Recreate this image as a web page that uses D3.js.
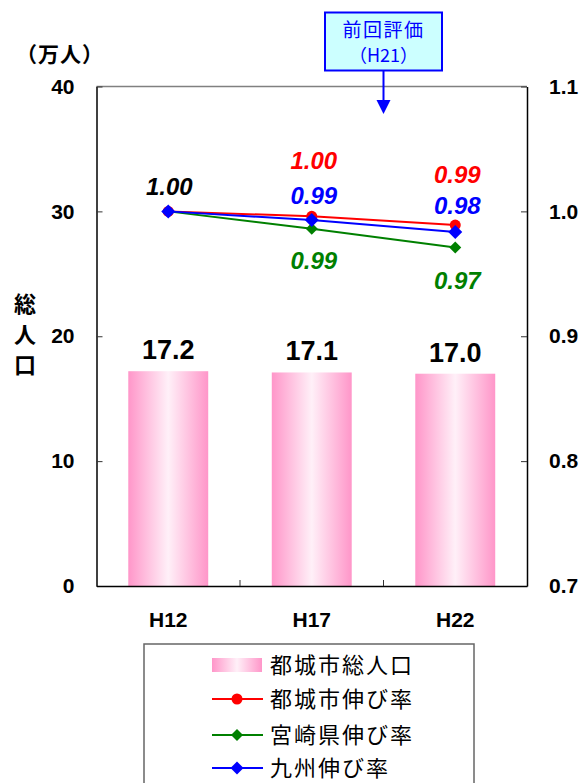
<!DOCTYPE html>
<html>
<head>
<meta charset="utf-8">
<script src="https://cdn.jsdelivr.net/npm/d3@7"></script>
<style>
  html, body { margin: 0; padding: 0; background: #fff; }
  svg { display: block; }
  text { font-family: "Liberation Sans", Arial, "Noto Sans CJK JP", sans-serif; }
  .jp { font-family: "Noto Sans CJK JP", sans-serif; }
</style>
</head>
<body>
<div id="chart"></div>
<script>
// ---- data ----
const categories = ["H12", "H17", "H22"];
const populationValues = [17.2, 17.1, 17.0];          // 都城市総人口 (万人)
const cityRate = [1.00, 0.996, 0.989];                // 都城市伸び率
const prefRate = [1.00, 0.986, 0.971];                // 宮崎県伸び率
const kyushuRate = [1.00, 0.993, 0.9835];             // 九州伸び率
const cityRateLabels = [null, "1.00", "0.99"];
const prefRateLabels = [null, "0.99", "0.97"];
const kyushuRateLabels = [null, "0.99", "0.98"];
const firstRateLabel = "1.00";
const leftTicks = [0, 10, 20, 30, 40];
const rightTicks = [0.7, 0.8, 0.9, 1.0, 1.1];
const legendLabels = ["都城市総人口", "都城市伸び率", "宮崎県伸び率", "九州伸び率"];
const unitLabel = "（万人）";
const yTitleChars = ["総", "人", "口"];
const calloutLines = ["前回評価", "（H21）"];

// ---- layout ----
const W = 584, H = 783;
const plot = { left: 96.5, right: 527, top: 86.5, bottom: 586 };

const svg = d3.select("#chart").append("svg").attr("width", W).attr("height", H);

const defs = svg.append("defs");
const grad = defs.append("linearGradient").attr("id", "barGrad")
  .attr("x1", "0%").attr("x2", "100%").attr("y1", "0%").attr("y2", "0%");
grad.append("stop").attr("offset", "0%").attr("stop-color", "#ff96c9");
grad.append("stop").attr("offset", "50%").attr("stop-color", "#fff0f8");
grad.append("stop").attr("offset", "100%").attr("stop-color", "#ff96c9");

const x = d3.scaleBand().domain(categories)
  .range([plot.left, plot.right]).paddingInner(0.443).paddingOuter(0.2215);
const yL = d3.scaleLinear().domain([0, 40]).range([plot.bottom, plot.top]);
const yR = d3.scaleLinear().domain([0.7, 1.1]).range([plot.bottom, plot.top]);
const cx = c => x(c) + x.bandwidth() / 2;

// plot frame (top border gray)
svg.append("line").attr("x1", plot.left).attr("x2", plot.right)
  .attr("y1", plot.top).attr("y2", plot.top)
  .attr("stroke", "#808080").attr("stroke-width", 1.5);

// bars
svg.append("g").selectAll("rect").data(categories).join("rect")
  .attr("x", c => x(c))
  .attr("width", x.bandwidth())
  .attr("y", (c, i) => yL(populationValues[i]))
  .attr("height", (c, i) => plot.bottom - yL(populationValues[i]))
  .attr("fill", "url(#barGrad)");

// bar value labels
svg.append("g").selectAll("text").data(categories).join("text")
  .attr("x", c => cx(c))
  .attr("y", (c, i) => yL(populationValues[i]) - 12)
  .attr("text-anchor", "middle")
  .attr("font-size", 27).attr("font-weight", "bold").attr("fill", "#000")
  .text((c, i) => populationValues[i].toFixed(1));

// left axis
const gL = svg.append("g").attr("transform", `translate(${plot.left},0)`)
  .call(d3.axisLeft(yL).tickValues(leftTicks).tickSizeInner(-6).tickSizeOuter(0).tickPadding(22).tickFormat(d3.format("d")));
// right axis
const gR = svg.append("g").attr("transform", `translate(${plot.right},0)`)
  .call(d3.axisRight(yR).tickValues(rightTicks).tickSizeInner(-6).tickSizeOuter(0).tickPadding(22).tickFormat(d3.format(".1f")));
// bottom axis
const gB = svg.append("g").attr("transform", `translate(0,${plot.bottom})`)
  .call(d3.axisBottom(x).tickSize(0).tickPadding(26));

[gL, gR, gB].forEach(g => {
  g.select(".domain").attr("stroke", "#000").attr("stroke-width", 1.5);
  g.selectAll(".tick line").attr("stroke", "#333").attr("stroke-width", 1);
  g.selectAll(".tick text").attr("fill", "#000").attr("font-size", 21).attr("font-weight", "bold")
    .attr("font-family", "'Liberation Sans', Arial, sans-serif");
});
gB.selectAll(".tick text").attr("font-size", 21);

// category boundary ticks (pointing up)
const boundaries = categories.slice(1).map(c => x(c) - x.step() * x.paddingInner() / 2);
svg.append("g").selectAll("line").data(boundaries).join("line")
  .attr("x1", d => d).attr("x2", d => d)
  .attr("y1", plot.bottom).attr("y2", plot.bottom - 6)
  .attr("stroke", "#333").attr("stroke-width", 1);

// lines
const series = [
  { vals: cityRate, color: "#ff0000", marker: "circle", labels: cityRateLabels, dy: [0, -55, -50] },
  { vals: prefRate, color: "#008000", marker: "diamondS", labels: prefRateLabels, dy: [0, 32, 33] },
  { vals: kyushuRate, color: "#0000ff", marker: "diamondL", labels: kyushuRateLabels, dy: [0, -24, -26] }
];
const line = d3.line().x(d => cx(d.c)).y(d => yR(d.v));
const diamond = (s) => `M0,${-s}L${s},0L0,${s}L${-s},0Z`;

series.forEach(s => {
  const pts = categories.map((c, i) => ({ c, v: s.vals[i] }));
  svg.append("path").datum(pts).attr("d", line)
    .attr("fill", "none").attr("stroke", s.color).attr("stroke-width", 2);
});
series.forEach(s => {
  const pts = categories.map((c, i) => ({ c, v: s.vals[i] }));
  const g = svg.append("g");
  if (s.marker === "circle") {
    g.selectAll("circle").data(pts).join("circle")
      .attr("cx", d => cx(d.c)).attr("cy", d => yR(d.v)).attr("r", 5.5).attr("fill", s.color);
  } else {
    const sz = s.marker === "diamondS" ? 6 : 7;
    g.selectAll("path").data(pts).join("path")
      .attr("transform", d => `translate(${cx(d.c)},${yR(d.v)})`)
      .attr("d", diamond(sz)).attr("fill", s.color);
  }
});

// rate labels
series.forEach(s => {
  svg.append("g").selectAll("text").data(categories.map((c, i) => ({ c, v: s.vals[i], t: s.labels[i], dy: s.dy[i] })).filter(d => d.t))
    .join("text")
    .attr("x", d => cx(d.c) + 2)
    .attr("y", d => yR(d.v) + d.dy + 8)
    .attr("text-anchor", "middle")
    .attr("font-size", 24).attr("font-weight", "bold").attr("font-style", "italic")
    .attr("fill", s.color)
    .text(d => d.t);
});
svg.append("text")
  .attr("x", cx(categories[0]) + 1).attr("y", yR(cityRate[0]) - 24 + 8)
  .attr("text-anchor", "middle")
  .attr("font-size", 24).attr("font-weight", "bold").attr("font-style", "italic")
  .attr("fill", "#000").text(firstRateLabel);

// unit label
svg.append("text").attr("class", "jp")
  .attr("x", 60).attr("y", 62).attr("text-anchor", "middle")
  .attr("font-size", 21).attr("font-weight", "bold").attr("letter-spacing", 1).text(unitLabel);

// y title (vertical)
const yTitleY = [304, 335, 365];
svg.append("g").selectAll("text").data(yTitleChars).join("text")
  .attr("class", "jp")
  .attr("x", 25).attr("y", (d, i) => yTitleY[i] + 8)
  .attr("text-anchor", "middle")
  .attr("font-size", 22).attr("font-weight", "bold").text(d => d);

// callout
const calloutX = boundaries[1];
const cb = { x: 325, y: 12.5, w: 117, h: 58 };
svg.append("rect").attr("x", cb.x).attr("y", cb.y).attr("width", cb.w).attr("height", cb.h)
  .attr("fill", "#ccffff").attr("stroke", "#0000ff").attr("stroke-width", 2);
svg.append("text").attr("class", "jp").attr("x", cb.x + cb.w / 2).attr("y", 37)
  .attr("text-anchor", "middle").attr("font-size", 19).attr("letter-spacing", 1.5)
  .attr("fill", "#0000ff").text(calloutLines[0]);
svg.append("text").attr("class", "jp").attr("x", cb.x + cb.w / 2).attr("y", 62)
  .attr("text-anchor", "middle").attr("font-size", 18)
  .attr("fill", "#0000ff").text(calloutLines[1]);
svg.append("line").attr("x1", calloutX).attr("x2", calloutX)
  .attr("y1", cb.y + cb.h).attr("y2", 101)
  .attr("stroke", "#0000ff").attr("stroke-width", 2);
svg.append("path")
  .attr("d", `M${calloutX - 7},100L${calloutX + 7},100L${calloutX},114Z`)
  .attr("fill", "#0000ff");

// legend
const lg = { x: 144, y: 644, w: 330, h: 160 };
svg.append("rect").attr("x", lg.x).attr("y", lg.y).attr("width", lg.w).attr("height", lg.h)
  .attr("fill", "#fff").attr("stroke", "#666").attr("stroke-width", 1.5);
const rowY = [665, 699, 735, 768];
const legendItems = [
  { type: "bar" },
  { type: "line", color: "#ff0000", marker: "circle" },
  { type: "line", color: "#008000", marker: "diamondS" },
  { type: "line", color: "#0000ff", marker: "diamondL" }
];
legendItems.forEach((it, i) => {
  const y = rowY[i];
  if (it.type === "bar") {
    svg.append("rect").attr("x", 212).attr("y", y - 7).attr("width", 50).attr("height", 14)
      .attr("fill", "url(#barGrad)");
  } else {
    svg.append("line").attr("x1", 212).attr("x2", 263).attr("y1", y).attr("y2", y)
      .attr("stroke", it.color).attr("stroke-width", 2);
    if (it.marker === "circle") {
      svg.append("circle").attr("cx", 237).attr("cy", y).attr("r", 5.5).attr("fill", it.color);
    } else {
      svg.append("path").attr("transform", `translate(237,${y})`)
        .attr("d", diamond(it.marker === "diamondS" ? 6 : 6.5)).attr("fill", it.color);
    }
  }
  svg.append("text").attr("class", "jp").attr("x", 270).attr("y", y + 8)
    .attr("font-size", 22).attr("letter-spacing", 2).attr("fill", "#000")
    .text(legendLabels[i]);
});
</script>
</body>
</html>
